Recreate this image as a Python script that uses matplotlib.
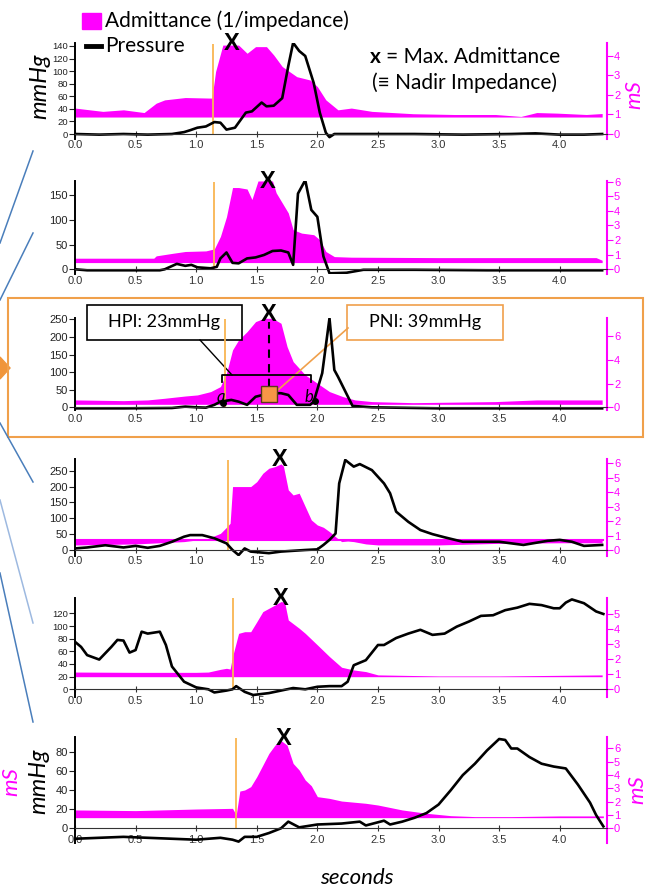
import matplotlib.pyplot as plt
from matplotlib.patches import Rectangle, Polygon
from matplotlib.transforms import blended_transform_factory

plt.rcParams['font.family'] = ['Lato', 'DejaVu Sans']

W, H = 651, 891
MAG = '#FF00FF'
ORANGE_LINE = '#F9B552'
ORANGE_BOX = '#F0A04B'

# ---- panel 1
t1p = [0, 0.2, 0.4, 0.6, 0.8, 0.9, 0.95, 1.01, 1.08, 1.15, 1.2, 1.25, 1.32, 1.41, 1.46, 1.54, 1.58, 1.64,
       1.71, 1.76, 1.8, 1.85, 1.9, 1.97, 2.02, 2.07, 2.1, 2.14, 2.4, 2.8, 3.2, 3.6, 3.8, 4.0, 4.2, 4.35]
p1 = [0, -1, 0, -1, 0, 3, 6, 10, 12, 19, 18, 7, 10, 34, 36, 50, 44, 45,
      57, 108, 145, 132, 124, 81, 34, 2, -5, 0, 0, 0, -1, 0, 1, -1, -1, 0]
t1a = [0, 0.23, 0.4, 0.57, 0.67, 0.74, 0.91, 1.13, 1.16, 1.22, 1.29, 1.35, 1.42, 1.49, 1.58, 1.64,
       1.71, 1.83, 1.94, 2.0, 2.07, 2.17, 2.28, 2.45, 2.79, 3.13, 3.47, 3.68, 3.81, 3.98, 4.22, 4.35]
a1 = [1.33, 1.16, 1.24, 1.1, 1.58, 1.75, 1.87, 1.84, 3.2, 4.56, 4.56, 4.56, 4.14, 4.48, 4.48, 4.05,
      3.46, 2.94, 2.77, 2.43, 1.75, 1.24, 1.33, 1.16, 1.04, 1.0, 1.0, 0.9, 1.1, 1.07, 1.0, 1.05]

# ---- panel 2
t2p = [0, 0.1, 0.4, 0.7, 0.74, 0.84, 0.91, 0.96, 1.01, 1.12, 1.17, 1.2, 1.25, 1.3, 1.35, 1.42, 1.49,
       1.56, 1.63, 1.7, 1.76, 1.8, 1.84, 1.9, 1.95, 2.0, 2.05, 2.1, 2.24, 2.38, 2.8, 3.4, 4.0, 4.35]
p2 = [0, -2, -2, -2, 0, 11, 7, 9, 4, 2, 5, 22, 34, 13, 12, 22, 24,
      29, 37, 38, 34, 9, 153, 180, 120, 106, 26, -8, -7, -1, -1, -2, -2, -2]
t2a = [0, 0.65, 0.67, 0.81, 0.91, 1.08, 1.15, 1.2, 1.25, 1.3, 1.35, 1.42, 1.46, 1.51, 1.63, 1.66,
       1.76, 1.8, 1.87, 1.97, 2.02, 2.07, 2.14, 2.28, 3.0, 4.0, 4.3, 4.35]
a2 = [0.76, 0.76, 0.92, 1.1, 1.22, 1.26, 1.4, 2.25, 3.6, 5.6, 5.6, 5.5, 4.78, 6.05, 6.05, 5.24,
      3.86, 2.71, 2.48, 2.37, 2.02, 1.22, 0.87, 0.83, 0.8, 0.8, 0.8, 0.62]

# ---- panel 3
t3p = [0, 0.4, 0.8, 0.91, 1.0, 1.08, 1.15, 1.2, 1.29, 1.35, 1.42, 1.49, 1.56, 1.63, 1.7,
       1.76, 1.83, 1.94, 1.97, 2.04, 2.1, 2.14, 2.17, 2.29, 2.45, 3.0, 3.5, 4.0, 4.35]
p3 = [-3, -3, -2, 2, 0, -1, 7, 16, 21, 16, 7, 30, 36, 40, 40,
      35, 7, 7, 16, 97, 253, 106, 87, 4, 0, -3, -3, -3, -3]
t3a = [0, 0.4, 0.6, 0.74, 0.91, 1.01, 1.12, 1.2, 1.25, 1.3, 1.35, 1.42, 1.49, 1.56, 1.63,
       1.7, 1.75, 1.8, 1.9, 2.0, 2.1, 2.21, 2.31, 2.45, 2.79, 3.47, 3.81, 4.35]
a3 = [0.62, 0.56, 0.62, 0.76, 0.95, 1.04, 1.32, 1.74, 2.86, 4.82, 5.66, 6.36, 7.2, 7.48, 7.48,
      7.06, 5.1, 3.84, 2.72, 2.02, 1.32, 0.9, 0.62, 0.48, 0.39, 0.48, 0.62, 0.62]

# ---- panel 4
t4p = [0, 0.1, 0.25, 0.4, 0.5, 0.6, 0.7, 0.8, 0.9, 0.95, 1.05, 1.15, 1.25, 1.3, 1.35, 1.4, 1.45,
       1.6, 1.7, 1.9, 2.0, 2.05, 2.1, 2.15, 2.18, 2.23, 2.3, 2.35, 2.45, 2.55, 2.6, 2.65, 2.75,
       2.85, 2.95, 3.05, 3.2, 3.5, 3.7, 3.9, 4.0, 4.1, 4.2, 4.35]
p4 = [5, 8, 15, 8, 13, 7, 13, 26, 42, 47, 47, 37, 21, 0, -16, 5, -5,
      -10, -5, 0, 2, 16, 32, 52, 210, 284, 263, 271, 252, 210, 179, 121, 89,
      63, 50, 40, 26, 26, 16, 29, 32, 26, 13, 16]
t4a = [0, 0.5, 0.9, 1.0, 1.1, 1.2, 1.25, 1.28, 1.3, 1.45, 1.5, 1.55, 1.6, 1.65, 1.7, 1.72, 1.76,
       1.8, 1.85, 1.9, 1.95, 2.0, 2.05, 2.1, 2.15, 2.2, 2.25, 2.3, 2.4, 2.5, 3.0, 3.5, 4.0, 4.35]
a4 = [0.35, 0.42, 0.58, 0.69, 0.81, 1.15, 1.57, 1.85, 4.39, 4.39, 4.73, 5.31, 5.66, 5.77, 5.96, 5.8, 4.16,
      3.81, 3.93, 3.0, 2.08, 1.73, 1.57, 1.27, 0.92, 0.58, 0.62, 0.58, 0.42, 0.35, 0.35, 0.46, 0.5, 0.5]

# ---- panel 5
t5p = [0, 0.05, 0.1, 0.2, 0.3, 0.35, 0.4, 0.45, 0.5, 0.55, 0.6, 0.7, 0.75, 0.8, 0.9, 1.0, 1.1,
       1.15, 1.25, 1.3, 1.33, 1.4, 1.47, 1.6, 1.8, 1.9, 2.0, 2.1, 2.2, 2.25, 2.3, 2.4, 2.5, 2.55,
       2.65, 2.75, 2.85, 2.95, 3.05, 3.15, 3.25, 3.35, 3.45, 3.55, 3.65, 3.75, 3.85, 3.95, 4.0,
       4.05, 4.1, 4.2, 4.3, 4.36]
p5 = [75, 67, 54, 47, 67, 78, 77, 58, 62, 91, 88, 91, 70, 36, 12, 3, 0,
      -5, -2, 0, 5, -4, -9, -6, 2, 0, 4, 5, 5, 12, 38, 46, 70, 70,
      81, 88, 94, 86, 88, 99, 107, 116, 117, 125, 129, 135, 133, 128, 128,
      137, 142, 136, 123, 119]
t5a = [0, 0.5, 1.0, 1.1, 1.2, 1.25, 1.28, 1.3, 1.35, 1.4, 1.45, 1.5, 1.55, 1.6, 1.65, 1.7, 1.73,
       1.76, 1.85, 1.9, 2.0, 2.1, 2.2, 2.3, 2.4, 2.5, 3.0, 3.5, 4.35]
a5 = [1.15, 1.13, 1.13, 1.15, 1.33, 1.4, 1.35, 2.18, 3.73, 3.84, 3.84, 4.5, 5.18, 5.4, 5.62, 5.85, 5.8,
      4.62, 4.07, 3.73, 2.96, 2.18, 1.47, 1.29, 1.18, 0.96, 0.89, 0.89, 0.96]

# ---- panel 6
t6p = [0, 0.2, 0.4, 0.6, 0.8, 1.0, 1.2, 1.3, 1.35, 1.4, 1.5, 1.6, 1.7, 1.76, 1.85, 2.0, 2.2,
       2.35, 2.4, 2.55, 2.6, 2.7, 2.8, 2.9, 3.0, 3.1, 3.2, 3.3, 3.4, 3.5, 3.55, 3.6, 3.65, 3.75,
       3.85, 3.95, 4.05, 4.15, 4.25, 4.3, 4.36]
p6 = [-11, -10, -9, -10, -11, -12, -10, -12, -14, -9, -9, -5, 0, 7, 1, 4, 5,
      7, 3, 8, 4, 7, 11, 16, 25, 40, 56, 68, 82, 94, 93, 84, 84, 75,
      68, 65, 63, 46, 27, 14, 2]
t6a = [0, 0.5, 1.0, 1.3, 1.33, 1.36, 1.4, 1.45, 1.5, 1.55, 1.6, 1.65, 1.7, 1.75, 1.8, 1.85, 1.9,
       1.95, 2.0, 2.1, 2.2, 2.4, 2.5, 2.7, 2.9, 3.1, 3.3, 3.6, 4.0, 4.36]
a6 = [1.38, 1.33, 1.45, 1.5, 1.0, 2.8, 2.88, 3.13, 3.88, 4.75, 5.63, 6.25, 6.6, 6.25, 4.88, 4.38, 3.63,
      3.2, 2.38, 2.25, 2.05, 1.88, 1.75, 1.38, 1.13, 0.95, 0.88, 0.88, 0.93, 0.93]

bases = [0.87, 0.46, 0.25, 0.7, 0.84, 0.8]        # admittance fill floor (mS)
onsets = [1.14, 1.15, 1.235, 1.26, 1.30, 1.33]      # orange onset markers (s)
max_adm = [1.29, 1.59, 1.60, 1.69, 1.70, 1.72]      # "X" positions (s)
left_ticks = [range(0, 141, 20), [0, 50, 100, 150], range(0, 251, 50),
              range(0, 251, 50), range(0, 121, 20), range(0, 81, 20)]
right_ticks = [range(0, 5), range(0, 7), [0, 2, 4, 6], range(0, 7), range(0, 6), range(0, 7)]
x_ticks = [0.0, 0.5, 1.0, 1.5, 2.0, 2.5, 3.0, 3.5, 4.0]

pressures = [(t1p, p1), (t2p, p2), (t3p, p3), (t4p, p4), (t5p, p5), (t6p, p6)]
admits = [(t1a, a1), (t2a, a2), (t3a, a3), (t4a, a4), (t5a, a5), (t6a, a6)]

# layout: pixel row of y=0, px per mmHg, px per mS, ymax, ymin, left tick label size
layout = [(134, 0.629, 19.5, 145, -8, 6.8),
          (269.3, 0.495, 14.6, 179, -10, 8),
          (407.3, 0.352, 11.9, 253, -8, 8),
          (550, 0.317, 14.45, 288, -20, 8),
          (689.3, 0.633, 15.0, 145, -12, 6.8),
          (828.3, 0.95, 13.3, 96, -15, 8)]
X_LEFT, X_RIGHT, XMAX = 75, 607, 4.39

fig = plt.figure(figsize=(W / 100, H / 100), dpi=100)
axes = []
for i, (y0, k, rk, ymax, ymin, lsize) in enumerate(layout):
    ytop = y0 - ymax * k
    ybot = y0 - ymin * k
    ax = fig.add_axes([X_LEFT / W, 1 - ybot / H, (X_RIGHT - X_LEFT) / W, (ybot - ytop) / H])
    ax2 = ax.twinx()
    ax.set_zorder(ax2.get_zorder() + 1)
    ax.patch.set_visible(False)

    ta, a = admits[i]
    ax2.fill_between(ta, bases[i], a, color=MAG, lw=0)
    if i == 3:
        ax2.axhline(bases[i], color=MAG, lw=1.5, xmax=4.36 / XMAX)
    ax2.set_ylim(ymin * k / rk, ymax * k / rk)

    tp, p = pressures[i]
    ax.plot(tp, p, color='black', lw=1.9, solid_joinstyle='round')
    ax.vlines(onsets[i], 0, ymax * 0.99, color=ORANGE_LINE, lw=1.3, zorder=1)
    ax.set_xlim(0, XMAX)
    ax.set_ylim(ymin, ymax)

    trans = blended_transform_factory(ax.transData, ax.transAxes)
    ax.text(max_adm[i], 1.04 if i == 2 else 0.99, 'X', transform=trans, ha='center', va='center',
            fontsize=17, fontweight='bold', family='Liberation Sans')

    for s in ['top', 'right']:
        ax.spines[s].set_visible(False)
    ax.spines['bottom'].set_position(('data', 0))
    ax.spines['bottom'].set_color('#333333')
    ax.spines['left'].set_linewidth(1.4)
    for s in ['top', 'left', 'bottom']:
        ax2.spines[s].set_visible(False)
    ax2.spines['right'].set_color(MAG)
    ax2.spines['right'].set_linewidth(1.5)

    ax.set_xticks(x_ticks)
    ax.set_xticklabels([f'{v:.1f}' for v in x_ticks])
    ax.set_yticks(list(left_ticks[i]))
    ax2.set_yticks(list(right_ticks[i]))
    ax.tick_params(axis='x', direction='inout', length=5, pad=2, labelsize=8, colors='#333333')
    ax.tick_params(axis='y', direction='out', length=4, pad=1, labelsize=lsize, colors='#222222')
    ax2.tick_params(axis='y', direction='out', length=4, pad=1, labelsize=8, colors=MAG)
    for lab in ax.get_xticklabels() + ax.get_yticklabels() + ax2.get_yticklabels():
        lab.set_fontfamily('Liberation Sans')
    axes.append(ax)

# annotations on panel 3
ax3 = axes[2]
ax3.plot([1.60, 1.60], [58, 243], color='black', lw=1.5, ls=(0, (4, 3)))
ax3.plot([1.21, 1.21, 1.95, 1.95], [72, 92, 92, 72], color='black', lw=1.3)
ax3.plot([1.22, 1.98], [12, 19], 'o', color='black', ms=4)
ax3.text(1.20, 30, 'a', style='italic', fontsize=12, ha='center', va='center')
ax3.text(1.93, 30, 'b', style='italic', fontsize=12, ha='center', va='center')
ax3.plot(1.60, 38, marker='s', ms=11, mfc='#F79646', mec='#5A3A1A', mew=1)

# overlay in pixel coordinates
ov = fig.add_axes([0, 0, 1, 1])
ov.set_xlim(0, W)
ov.set_ylim(H, 0)
ov.axis('off')
ov.patch.set_alpha(0)

# left decoration lines
for (x0, y0_, x1, y1, c) in [(33, 151, 0, 243, '#4A7EBB'), (33, 233, 0, 300, '#4A7EBB'),
                             (0, 423, 33, 482, '#4A7EBB'), (0, 500, 33, 623, '#9DB9E0'),
                             (0, 573, 33, 722, '#4A7EBB')]:
    ov.plot([x0, x1], [y0_, y1], color=c, lw=1.1)
ov.add_patch(Polygon([[0, 357], [10, 368], [0, 379]], closed=True, color='#F0953A'))
ov.add_patch(Rectangle((8, 298), 635, 139, fill=False, ec=ORANGE_BOX, lw=1.5))

# legend
ov.add_patch(Rectangle((82, 13), 19, 16, color=MAG))
ov.text(105, 21, 'Admittance (1/impedance)', fontsize=15, va='center')
ov.plot([86, 101], [46, 46], color='black', lw=3.5)
ov.text(105, 46, 'Pressure', fontsize=15, va='center')

ov.text(370, 57, 'x', fontsize=15, fontweight='bold', va='center')
ov.text(386, 57, '= Max. Admittance', fontsize=15, va='center')
ov.text(372, 83, '(\u2261 Nadir Impedance)', fontsize=15, va='center',
        family=['Lato', 'DejaVu Sans'])

# HPI / PNI boxes
ov.plot([200, 232], [340, 375], color='black', lw=1)
ov.plot([348, 278], [328, 390], color=ORANGE_BOX, lw=1.2)
ov.add_patch(Rectangle((87, 305), 155, 35, fc='white', ec='black', lw=1.2))
ov.text(164.5, 322.5, 'HPI: 23mmHg', fontsize=13, ha='center', va='center')
ov.add_patch(Rectangle((347, 305), 156, 35, fc='white', ec=ORANGE_BOX, lw=1.2))
ov.text(425, 322.5, 'PNI: 39mmHg', fontsize=13, ha='center', va='center')

# axis labels
ov.text(40, 86, 'mmHg', rotation=90, style='italic', fontsize=17, ha='center', va='center')
ov.text(634, 95, 'mS', rotation=90, style='italic', fontsize=16, color=MAG, ha='center', va='center')
ov.text(39, 781, 'mmHg', rotation=90, style='italic', fontsize=17, ha='center', va='center')
ov.text(11, 782, 'mS', rotation=90, style='italic', fontsize=16, color=MAG, ha='center', va='center')
ov.text(637, 790, 'mS', rotation=90, style='italic', fontsize=16, color=MAG, ha='center', va='center')
ov.text(357, 878, 'seconds', style='italic', fontsize=16, ha='center', va='center')

fig.savefig('out.png', dpi=100)
